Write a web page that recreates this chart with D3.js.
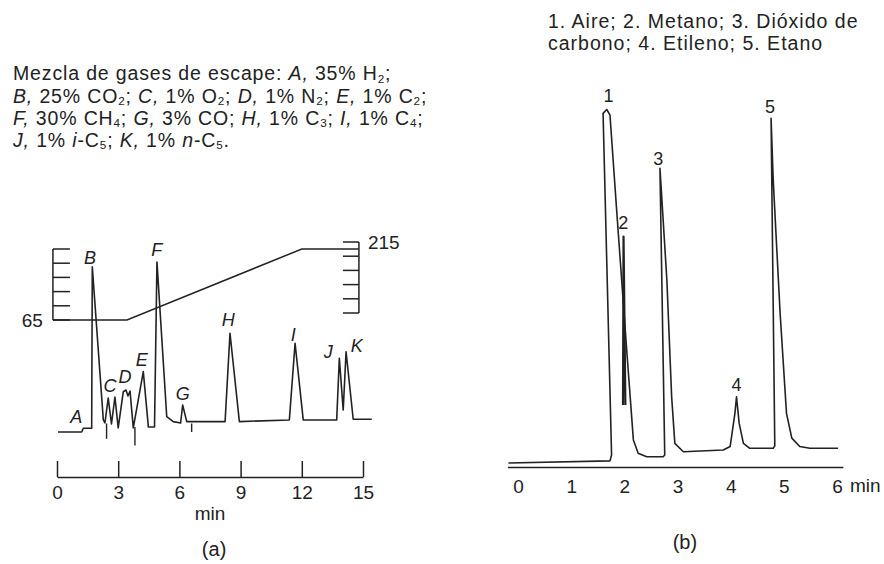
<!DOCTYPE html>
<html><head><meta charset="utf-8">
<script src="https://cdn.jsdelivr.net/npm/d3@7"></script>
<style>
body{margin:0;background:#fff}
svg{display:block}
text{font-family:"Liberation Sans",Arial,Helvetica,sans-serif;fill:#222;white-space:pre}
</style>
</head><body>
<svg id="c" width="884" height="564"></svg>
<script>
// ---------- data: panel (a) ----------
const timeTicksA = [0, 3, 6, 9, 12, 15];
// chromatogram trace (a): [time min, detector signal, arbitrary units]
const traceA = [
  [0.05,0],[1.21,0],[1.29,2.2],[1.70,2.2],[1.73,97.2],[2.27,7.1],[2.35,5.3],[2.51,20],
  [2.67,4.7],[2.84,20.6],[3.00,2.4],[3.25,23.7],[3.38,24.7],[3.48,21.2],[3.58,24.1],
  [3.74,2.4],[4.23,35.5],[4.48,2.9],[4.78,2.9],[4.90,100],[5.38,9],[5.70,6.1],[6.06,5.3],
  [6.16,15.9],[6.36,6.1],[8.24,6.1],[8.48,58.1],[8.94,6.1],[11.39,7.1],[11.67,52.2],
  [12.07,7.1],[13.71,7.1],[13.84,43.4],[14.03,12.9],[14.17,47.2],[14.52,7.5],[15.43,7.5]
];
// event marks below the trace: [time, top signal, bottom signal]
const eventMarksA = [[2.43,5,-4],[3.82,3,-8],[6.60,5,0]];
const peakLabelsA = ["A","B","C","D","E","F","G","H","I","J","K"];
const peakLabelPosA = [[0.94,9],[1.62,102.9],[2.60,27.6],[3.33,32.4],[4.15,42.5],[4.89,107.1],
  [6.16,22.9],[8.40,65.9],[11.58,57.1],[13.30,47.2],[14.69,51.0]];
// temperature program (°C)
const tempProgram = [[-0.2,65],[3.43,65],[12.0,215],[14.8,215]];
const tempTicks = [65, 95, 125, 155, 185, 215];

// ---------- data: panel (b) ----------
const timeTicksB = [0, 1, 2, 3, 4, 5, 6];
const traceB = [
  [-0.18,0],[1.73,0.6],[1.76,2.3],[1.60,99.9],[1.67,101],[1.73,99.4],[1.86,71.3],[2.04,33.2],
  [2.17,6.6],[2.26,2.8],[2.42,1.8],[2.73,1.8],[2.76,2.3],[2.67,84.2],[2.80,52.3],[2.89,18.9],
  [2.95,5.6],[3.11,3.2],[3.86,3.7],[3.99,4.7],[4.08,14.2],[4.11,18.9],[4.16,11.3],[4.24,5.6],
  [4.36,4.2],[4.80,4.2],[4.83,4.9],[4.76,98.5],[4.80,80.9],[4.93,42.8],[5.05,14.2],[5.15,7.1],
  [5.30,4.7],[5.49,4.2],[6.02,4.2]
];
const peak2B = [[1.975,16.6],[1.985,64.7],[2.02,16.6]];
const peakLabelsB = ["1","2","3","4","5"];
const peakLabelPosB = [[1.70,105],[1.98,68.6],[2.64,87.1],[4.11,22.3],[4.74,101.9]];

// ---------- drawing ----------
const svg = d3.select("#c");
const ink = "#222";

function richText(g, x, y, segs, size, ls){
  const t = g.append("text").attr("x",x).attr("y",y).attr("font-size",size)
    .attr("letter-spacing", ls || 0);
  let shifted = false;
  const d = size*0.14;
  segs.forEach(([str, st]) => {
    const sp = t.append("tspan").text(str);
    if (st === "s") { sp.attr("font-size", size*0.6).attr("dy", d); shifted = true; }
    else {
      if (shifted) { sp.attr("dy", -d); shifted = false; }
      if (st === "i") sp.attr("font-style","italic");
    }
  });
  return t;
}

// header (a)
const hA = svg.append("g");
const hs = 19.5, hls = 0.85;
richText(hA, 13, 80, [["Mezcla de gases de escape: "],["A,","i"],[" 35% H"],["2","s"],[";"]], hs, hls);
richText(hA, 13, 102.5, [["B,","i"],[" 25% CO"],["2","s"],["; "],["C,","i"],[" 1% O"],["2","s"],["; "],["D,","i"],[" 1% N"],["2","s"],["; "],["E,","i"],[" 1% C"],["2","s"],[";"]], hs, hls);
richText(hA, 13, 124.5, [["F,","i"],[" 30% CH"],["4","s"],["; "],["G,","i"],[" 3% CO; "],["H,","i"],[" 1% C"],["3","s"],["; "],["I,","i"],[" 1% C"],["4","s"],[";"]], hs, hls);
richText(hA, 13, 146.5, [["J,","i"],[" 1% "],["i","i"],["-C"],["5","s"],["; "],["K,","i"],[" 1% "],["n","i"],["-C"],["5","s"],["."]], hs, hls);

// header (b)
const hB = svg.append("g");
richText(hB, 548, 28, [["1. Aire; 2. Metano; 3. Dióxido de"]], 19.5, 1.0);
richText(hB, 548, 50, [["carbono; 4. Etileno; 5. Etano"]], 19.5, 1.0);

// ----- panel (a) -----
const xA = d3.scaleLinear().domain([0,15]).range([57,363]);
const yA = d3.scaleLinear().domain([0,100]).range([432,262]);
const tA = d3.scaleLinear().domain([65,215]).range([320,249]);
const tAR = d3.scaleLinear().domain([65,215]).range([313,242]);

const gA = svg.append("g");
const lineA = d3.line().x(d=>xA(d[0])).y(d=>yA(d[1]));
gA.append("path").datum(traceA).attr("d",lineA)
  .attr("fill","none").attr("stroke",ink).attr("stroke-width",1.6).attr("stroke-linejoin","round");
gA.selectAll("line.ev").data(eventMarksA).join("line").attr("class","ev")
  .attr("x1",d=>xA(d[0])).attr("x2",d=>xA(d[0]))
  .attr("y1",d=>yA(d[1])).attr("y2",d=>yA(d[2]))
  .attr("stroke",ink).attr("stroke-width",1.4);

// temperature program
const tLine = d3.line().x(d=>xA(d[0])).y(d=>tA(d[1]));
gA.append("path").datum(tempProgram).attr("d",tLine)
  .attr("fill","none").attr("stroke",ink).attr("stroke-width",1.5);
// left temperature scale
const xL = xA(tempProgram[0][0]);
gA.append("line").attr("x1",xL).attr("x2",xL).attr("y1",tA(65)).attr("y2",tA(215))
  .attr("stroke",ink).attr("stroke-width",1.5);
gA.selectAll("line.tl").data(tempTicks).join("line").attr("class","tl")
  .attr("x1",xL).attr("x2",xL+17).attr("y1",d=>tA(d)).attr("y2",d=>tA(d))
  .attr("stroke",ink).attr("stroke-width",1.5);
// right temperature scale
const xR = xA(tempProgram[tempProgram.length-1][0]);
gA.append("line").attr("x1",xR).attr("x2",xR).attr("y1",tAR(65)).attr("y2",tAR(215))
  .attr("stroke",ink).attr("stroke-width",1.5);
gA.selectAll("line.tr").data(tempTicks).join("line").attr("class","tr")
  .attr("x1",xR-16).attr("x2",xR).attr("y1",d=>tAR(d)).attr("y2",d=>tAR(d))
  .attr("stroke",ink).attr("stroke-width",1.5);
gA.append("text").attr("x",xL-10).attr("y",tA(65)).attr("dy","0.36em")
  .attr("text-anchor","end").attr("font-size",19).text(tempTicks[0]);
gA.append("text").attr("x",xR+9).attr("y",tAR(215)).attr("dy","0.36em")
  .attr("font-size",19).text(tempTicks[tempTicks.length-1]);

// peak labels
gA.selectAll("text.pl").data(peakLabelsA).join("text").attr("class","pl")
  .attr("x",(d,i)=>xA(peakLabelPosA[i][0])).attr("y",(d,i)=>yA(peakLabelPosA[i][1]))
  .attr("dy","0.36em").attr("text-anchor","middle").attr("font-size",18)
  .attr("font-style","italic").text(d=>d);

// axis (a)
const axA = gA.append("g").attr("transform","translate(0,477)")
  .call(d3.axisBottom(xA).tickValues(timeTicksA).tickFormat(d3.format("d"))
    .tickSize(-16).tickSizeOuter(0).tickPadding(9));
axA.selectAll("path,line").attr("stroke",ink).attr("stroke-width",1.5);
axA.selectAll("text").attr("font-size",19).attr("font-family","Liberation Sans, Arial, sans-serif").attr("fill",ink);
gA.append("text").attr("x",xA(7.5)).attr("y",520).attr("text-anchor","middle").attr("font-size",19).text("min");
gA.append("text").attr("x",xA(7.7)).attr("y",556).attr("text-anchor","middle").attr("font-size",20).text("(a)");

// ----- panel (b) -----
const xB = d3.scaleLinear().domain([0,6]).range([518,837]);
const yB = d3.scaleLinear().domain([0,100]).range([463,113]);
const gB = svg.append("g");
const lineB = d3.line().x(d=>xB(d[0])).y(d=>yB(d[1]));
gB.append("path").datum(traceB).attr("d",lineB)
  .attr("fill","none").attr("stroke",ink).attr("stroke-width",1.6).attr("stroke-linejoin","round");
gB.append("path").datum(peak2B).attr("d",lineB)
  .attr("fill","none").attr("stroke",ink).attr("stroke-width",2.2).attr("stroke-linejoin","round");
gB.selectAll("text.pl").data(peakLabelsB).join("text").attr("class","pl")
  .attr("x",(d,i)=>xB(peakLabelPosB[i][0])).attr("y",(d,i)=>yB(peakLabelPosB[i][1]))
  .attr("dy","0.36em").attr("text-anchor","middle").attr("font-size",18).text(d=>d);

const axB = gB.append("g").attr("transform","translate(0,467.5)")
  .call(d3.axisBottom(xB).tickValues(timeTicksB).tickFormat(d3.format("d")).tickSize(0).tickPadding(12));
axB.select(".domain").remove();
axB.selectAll("text").attr("font-size",19).attr("font-family","Liberation Sans, Arial, sans-serif").attr("fill",ink);
gB.append("line").attr("x1",xB(-0.19)).attr("x2",xB(6.12)).attr("y1",467.5).attr("y2",467.5)
  .attr("stroke",ink).attr("stroke-width",1.6);
gB.append("text").attr("x",xB(6)+13).attr("y",492).attr("font-size",19).text("min");
gB.append("text").attr("x",xB(3.14)).attr("y",549).attr("text-anchor","middle").attr("font-size",20).text("(b)");
</script>
</body></html>
